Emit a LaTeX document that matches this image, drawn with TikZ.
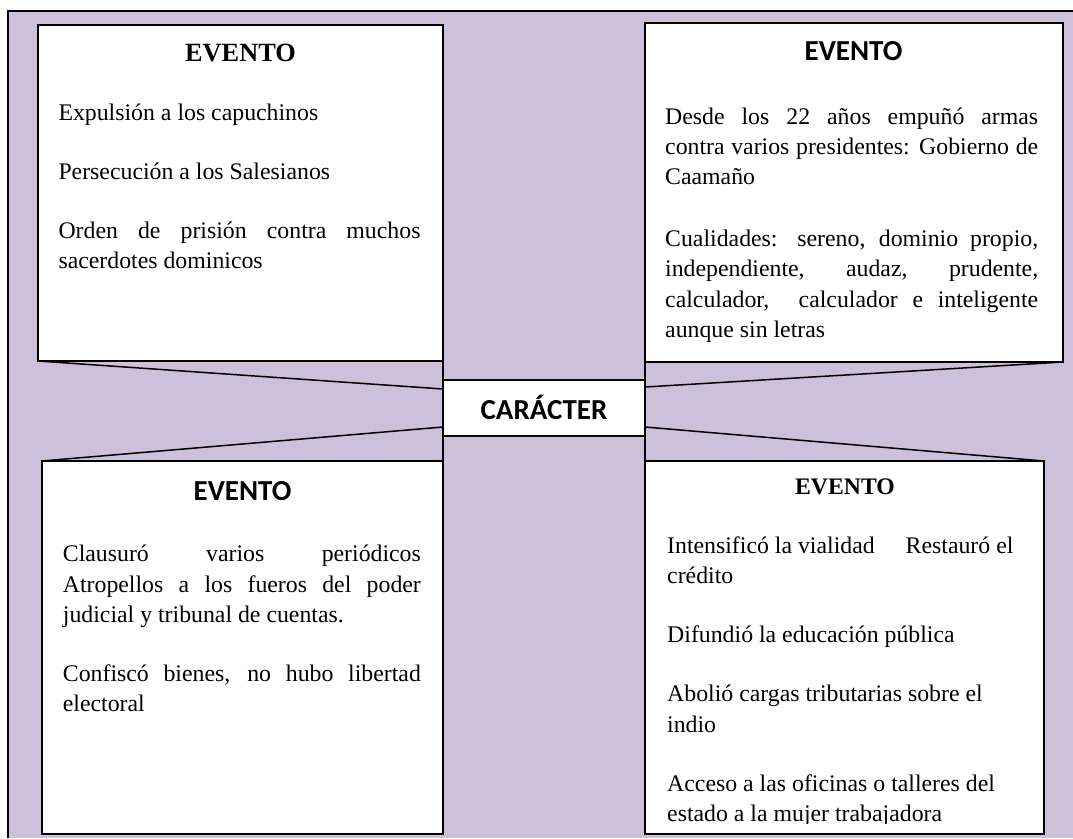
\documentclass[tikz,border=0pt]{standalone}
\usepackage{fontspec}
\setmainfont{Liberation Serif}
\newfontfamily\calibri{Carlito}
\definecolor{lavbg}{RGB}{204,192,218}
\newcommand{\evfull}[1]{\hbox to\hsize{#1}}
\newcommand{\evlast}[1]{\hbox{#1}}
\newcommand{\pgap}{\vskip 28.6pt}
\hbadness=10000

\begin{document}
\begin{tikzpicture}[x=1pt,y=-1pt,
    evbox/.style={draw,fill=white,line width=1.6pt,inner sep=0pt,outer sep=0pt,anchor=north west},
    hdserif/.style={font=\bfseries\fontsize{26.3}{30}\selectfont,anchor=base,inner sep=0pt},
    hdsans/.style={font=\calibri\bfseries\fontsize{29}{33}\selectfont,anchor=base,inner sep=0pt},
    evtext/.style={font=\fontsize{23.8}{30.4}\selectfont,anchor=base west,inner sep=0pt}]
  \useasboundingbox (0,0) rectangle (1073,838);
  \fill[lavbg] (8,11) rectangle (1073,838);
  \draw[line width=1.5pt] (8,838) -- (8,11) -- (1073,11);

  % cajas
  \node[evbox,minimum width=405pt,minimum height=336pt] (tl) at (38,25) {};
  \node[evbox,minimum width=418pt,minimum height=339pt] (tr) at (645,23) {};
  \node[evbox,minimum width=401pt,minimum height=373pt] (bl) at (42,461) {};
  \node[evbox,minimum width=399pt,minimum height=373pt] (br) at (645,461) {};
  \node[evbox,minimum width=202pt,minimum height=56pt,text height=22pt,text depth=0pt,
    font=\calibri\bfseries\fontsize{29}{33}\selectfont] (car) at (443,380) {CARÁCTER};

  % uniones
  \draw[line width=1.5pt] (tl.south west) -- ([yshift=-9pt]car.north west);
  \draw[line width=1.5pt] (tr.south east) -- ([yshift=-7pt]car.north east);
  \draw[line width=1.5pt] (bl.north west) -- ([yshift=9pt]car.south west);
  \draw[line width=1.5pt] (br.north east) -- ([yshift=9pt]car.south east);
  \draw[line width=1.5pt] (tl.south east) -- (bl.north east);
  \draw[line width=1.5pt] (tr.south west) -- (br.north west);

  \node[hdserif] (tlhead) at (240.5,61) {EVENTO};
  \node[hdsans] (trhead) at (853.5,60) {EVENTO};
  \node[hdsans] (blhead) at (242.5,500) {EVENTO};
  \node[hdserif,font=\bfseries\fontsize{23.7}{28}\selectfont] (brhead) at (845,494) {EVENTO};

  \node[evtext] (tltext) at (58.3,120) {\vtop{\hsize=362pt
    \evlast{Expulsión a los capuchinos}\pgap
    \evlast{Persecución a los Salesianos}\pgap
    \evfull{Orden de prisión contra muchos}
    \evlast{sacerdotes dominicos}}};
  \node[evtext] (trtext) at (665,124) {\vtop{\hsize=373pt
    \evfull{Desde los 22 años empuñó armas}
    \evfull{contra varios presidentes: Gobierno de}
    \evlast{Caamaño}\vskip 31.3pt
    \evfull{Cualidades: sereno, dominio propio,}
    \evfull{independiente, audaz, prudente,}
    \evfull{calculador,\ \ calculador e inteligente}
    \evlast{aunque sin letras}}};
  \node[evtext] (bltext) at (62.7,561.7) {\vtop{\hsize=358pt
    \evfull{Clausuró varios periódicos}
    \evfull{Atropellos a los fueros del poder}
    \evlast{judicial y tribunal de cuentas.}\pgap
    \evfull{Confiscó bienes, no hubo libertad}
    \evlast{electoral}}};
  \begin{scope}
    \clip (650,470) rectangle (1040,823);
    \node[evtext] (brtext) at (667,553.3) {\vtop{\hsize=360pt
      \evlast{Intensificó la vialidad\hspace{25pt} Restauró el}
      \evlast{crédito}\pgap
      \evlast{Difundió la educación pública}\pgap
      \evlast{Abolió cargas tributarias sobre el}
      \evlast{indio}\pgap
      \evlast{Acceso a las oficinas o talleres del}
      \evlast{estado a la mujer trabajadora}}};
  \end{scope}
\end{tikzpicture}
\end{document}
